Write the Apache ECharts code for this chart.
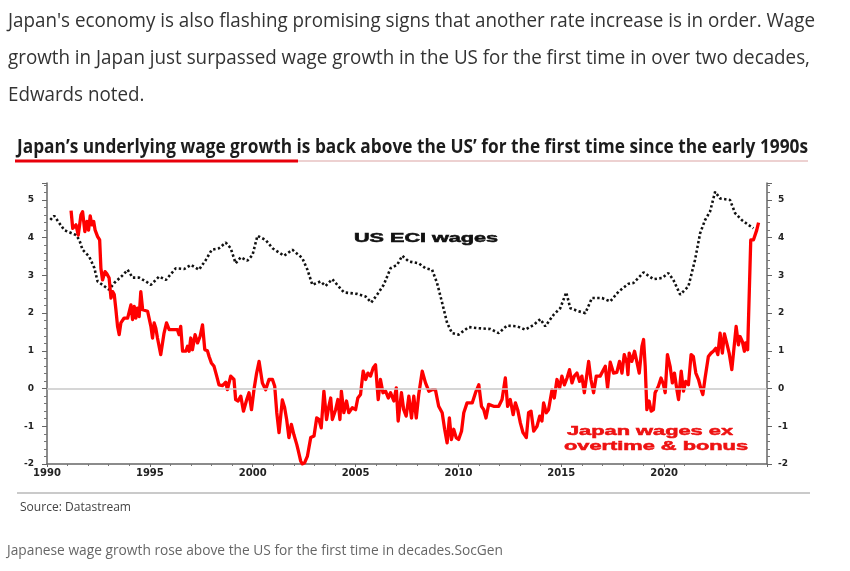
<!DOCTYPE html>
<html>
<head>
<meta charset="utf-8">
<script src="https://cdn.jsdelivr.net/npm/echarts@6/dist/echarts.min.js"></script>
<style>
html,body{margin:0;padding:0;background:#fff;}
#chart{width:850px;height:571px;}
</style>
</head>
<body>
<div id="chart"></div>
<script>
// ---------- DATA ----------
const articleLines = [
  "Japan's economy is also flashing promising signs that another rate increase is in order. Wage",
  "growth in Japan just surpassed wage growth in the US for the first time in over two decades,",
  "Edwards noted."
];
const chartTitle = "Japan\u2019s underlying wage growth is back above the US\u2019 for the first time since the early 1990s";
const sourceText = "Source: Datastream";
const captionText = "Japanese wage growth rose above the US for the first time in decades.SocGen";
const usLabel = "US ECI wages";
const japanLabel = ["Japan wages ex", "overtime & bonus"];

const yTicks = [-2, -1, 0, 1, 2, 3, 4, 5];
const xTicks = [1990, 1995, 2000, 2005, 2010, 2015, 2020];

// US ECI wages (% y/y), decimal year
const usX = [1990.16,1990.35,1990.84,1991.41,1991.57,1991.73,1992.05,1992.30,1992.46,1992.70,1993.02,1993.27,1993.67,1993.92,1994.16,1994.48,1994.81,1995.05,1995.45,1995.78,1996.26,1996.67,1996.99,1997.39,1997.72,1998.01,1998.36,1998.69,1998.93,1999.17,1999.42,1999.74,1999.99,2000.23,2000.63,2000.96,2001.52,2001.93,2002.41,2002.66,2002.90,2003.30,2003.54,2003.87,2004.43,2005.08,2005.49,2005.76,2006.05,2006.37,2006.70,2007.02,2007.27,2007.59,2008.07,2008.40,2008.72,2008.96,2009.21,2009.45,2009.69,2010.01,2010.50,2010.99,2011.55,2011.96,2012.36,2012.85,2013.25,2013.66,2013.98,2014.22,2014.63,2014.95,2015.24,2015.44,2015.84,2016.17,2016.49,2016.98,2017.38,2017.78,2018.27,2018.51,2019.00,2019.48,2019.89,2020.21,2020.45,2020.78,2021.18,2021.50,2021.75,2021.99,2022.23,2022.48,2022.72,2023.20,2023.45,2023.77,2024.09,2024.34];
const usY = [4.47,4.58,4.2,4.07,3.94,3.68,3.5,3.2,2.84,2.75,2.62,2.8,3.0,3.15,2.94,2.94,2.84,2.75,2.97,2.88,3.19,3.17,3.28,3.15,3.41,3.68,3.72,3.87,3.72,3.32,3.48,3.39,3.54,4.05,3.94,3.72,3.52,3.68,3.46,3.15,2.75,2.84,2.72,2.9,2.55,2.51,2.44,2.28,2.49,2.75,3.19,3.28,3.52,3.37,3.32,3.19,3.15,2.8,2.27,1.74,1.47,1.43,1.63,1.6,1.58,1.47,1.67,1.65,1.56,1.69,1.84,1.65,1.96,2.13,2.55,2.13,2.05,2.0,2.4,2.4,2.31,2.57,2.78,2.8,3.08,2.9,2.93,3.06,2.88,2.49,2.71,3.41,4.12,4.47,4.69,5.22,5.04,5.0,4.65,4.47,4.34,4.25];

// Japan wages ex overtime & bonus (% y/y), decimal year
const japanX = [1991.17,1991.25,1991.41,1991.52,1991.65,1991.73,1991.84,1991.94,1992.02,1992.10,1992.18,1992.27,1992.34,1992.46,1992.56,1992.62,1992.70,1992.82,1992.91,1993.02,1993.11,1993.19,1993.27,1993.35,1993.43,1993.51,1993.59,1993.75,1993.92,1994.08,1994.16,1994.24,1994.32,1994.40,1994.48,1994.56,1994.65,1994.72,1994.89,1995.05,1995.13,1995.21,1995.29,1995.37,1995.53,1995.69,1995.81,1995.94,1996.34,1996.42,1996.50,1996.59,1996.75,1996.83,1996.91,1996.99,1997.07,1997.20,1997.32,1997.44,1997.56,1997.67,1997.80,1997.88,1997.99,1998.12,1998.25,1998.36,1998.53,1998.69,1998.77,1998.93,1999.09,1999.17,1999.29,1999.42,1999.55,1999.71,1999.82,1999.94,2000.06,2000.19,2000.31,2000.47,2000.63,2000.79,2000.96,2001.07,2001.17,2001.28,2001.44,2001.55,2001.65,2001.76,2001.88,2002.00,2002.14,2002.20,2002.33,2002.41,2002.52,2002.66,2002.82,2002.98,2003.11,2003.22,2003.33,2003.46,2003.59,2003.70,2003.79,2003.87,2004.03,2004.14,2004.24,2004.31,2004.43,2004.56,2004.67,2004.84,2005.00,2005.11,2005.24,2005.37,2005.49,2005.60,2005.73,2005.86,2005.97,2006.10,2006.21,2006.33,2006.46,2006.59,2006.70,2006.86,2006.98,2007.07,2007.23,2007.34,2007.46,2007.59,2007.72,2007.83,2007.95,2008.07,2008.24,2008.40,2008.56,2008.72,2008.88,2009.04,2009.21,2009.33,2009.45,2009.56,2009.66,2009.77,2009.89,2010.01,2010.15,2010.26,2010.42,2010.67,2010.83,2010.99,2011.12,2011.23,2011.34,2011.47,2011.71,2011.96,2012.12,2012.28,2012.39,2012.52,2012.66,2012.77,2012.88,2013.01,2013.14,2013.30,2013.41,2013.53,2013.66,2013.82,2013.95,2014.06,2014.14,2014.27,2014.38,2014.55,2014.66,2014.79,2014.92,2015.03,2015.15,2015.28,2015.40,2015.52,2015.63,2015.76,2015.89,2016.00,2016.12,2016.21,2016.33,2016.44,2016.57,2016.70,2016.89,2017.14,2017.25,2017.38,2017.54,2017.70,2017.83,2017.95,2018.06,2018.19,2018.24,2018.30,2018.43,2018.56,2018.67,2018.79,2018.92,2019.00,2019.08,2019.16,2019.27,2019.37,2019.48,2019.56,2019.72,2019.85,2019.97,2020.05,2020.16,2020.29,2020.40,2020.50,2020.62,2020.70,2020.83,2020.94,2021.05,2021.18,2021.31,2021.42,2021.54,2021.67,2021.80,2021.88,2021.99,2022.07,2022.15,2022.28,2022.39,2022.51,2022.61,2022.72,2022.83,2022.93,2023.04,2023.16,2023.29,2023.42,2023.50,2023.61,2023.69,2023.80,2023.90,2023.96,2024.06,2024.14,2024.21,2024.34,2024.42,2024.50,2024.59];
const japanY = [4.72,4.25,4.34,4.07,4.6,4.69,4.16,4.43,4.2,4.58,4.34,4.43,4.2,4.03,3.94,3.19,2.88,3.1,3.04,2.93,2.4,2.57,2.49,2.09,1.65,1.43,1.74,1.87,1.87,2.22,1.83,2.18,1.87,2.13,1.91,2.57,2.09,2.05,2.05,1.65,1.34,1.74,1.6,1.34,0.9,1.47,1.74,1.56,1.56,1.43,1.65,0.99,0.99,1.12,0.99,1.34,1.03,1.43,1.21,1.38,1.69,1.03,1.0,0.85,0.68,0.59,0.33,0.1,0.08,0.17,-0.03,0.33,0.24,-0.29,-0.33,-0.2,-0.6,-0.29,-0.11,-0.56,-0.03,0.41,0.72,0.15,-0.03,0.24,0.24,0.06,-0.64,-1.17,-0.3,-0.5,-0.82,-1.3,-0.95,-1.22,-1.48,-1.61,-1.92,-2.0,-1.97,-1.79,-1.3,-1.26,-0.78,-0.82,-1.04,-0.07,-0.82,-0.47,-0.25,-0.82,-0.56,-0.29,-0.82,-0.07,-0.64,-0.33,-0.64,-0.51,-0.56,-0.25,-0.16,0.46,0.24,0.41,0.33,0.55,0.63,-0.29,0.24,-0.11,-0.07,-0.25,-0.11,-0.33,0.02,-0.86,-0.11,-0.56,-0.73,-0.2,-0.78,-0.2,-0.78,-0.16,0.46,0.15,-0.07,-0.03,-0.03,-0.47,-0.64,-1.08,-1.44,-0.78,-1.35,-1.08,-1.3,-1.35,-1.13,-0.64,-0.38,-0.38,-0.11,0.1,-0.47,-0.56,-0.78,-0.42,-0.47,-0.47,-0.29,0.28,-0.47,-0.29,-0.69,-0.38,-0.56,-0.91,-1.17,-1.3,-0.64,-0.6,-1.13,-1.0,-0.73,-0.86,-0.38,-0.64,-0.56,-0.03,-0.25,0.24,0.02,0.33,0.1,0.28,0.5,0.15,0.33,0.41,0.19,0.33,-0.11,0.24,0.72,0.24,-0.11,0.33,0.33,0.59,0.02,0.7,0.41,0.43,0.72,0.41,0.9,0.68,0.37,0.94,0.72,0.99,0.72,0.41,1.12,1.3,0.59,-0.56,-0.33,-0.6,-0.56,-0.11,0.06,0.28,0.1,-0.11,0.9,0.59,0.15,0.41,-0.03,-0.29,0.46,-0.07,0.19,0.1,0.9,0.85,0.41,0.24,-0.03,-0.16,0.28,0.24,0.85,0.94,0.99,1.07,0.9,1.47,0.94,1.45,1.21,0.94,0.5,1.21,1.65,1.16,1.38,1.25,0.99,1.21,1.03,1.06,3.94,3.94,3.94,4.2,4.4];

// ---------- BUILD ----------
const usData = usX.map((x, i) => [x, usY[i]]);
const japanData = japanX.map((x, i) => [x, japanY[i]]);

const measureCtx = document.createElement('canvas').getContext('2d');
function fitScale(text, font, width) {
  measureCtx.font = font;
  return width / measureCtx.measureText(text).width;
}

const articleFont = "19.5px 'Open Sans'";
const articleScale = fitScale(articleLines[0], articleFont, 807);
const titleFont = "bold 19px 'Open Sans'";
const titleScale = fitScale(chartTitle, titleFont, 791);
const srcFont = "12.5px 'Open Sans'";
const srcScale = fitScale(sourceText, srcFont, 111);
const capFont = "14px 'Open Sans'";
const capScale = fitScale(captionText, capFont, 496);
const annFont = "bold 12px 'Liberation Sans'";
const usScale = fitScale(usLabel, annFont, 144);
const jpScale = fitScale(japanLabel[0], annFont, 166);

function txt(text, x, y, font, fill, scaleX, align, strokeW) {
  const style = { text: text, font: font, fill: fill, align: align || 'left', verticalAlign: 'middle' };
  if (strokeW) { style.stroke = fill; style.lineWidth = strokeW; }
  return { type: 'text', x: x, y: y, scaleX: scaleX, silent: true, z: 100, style: style };
}

const graphics = [
  txt(articleLines[0], 8, 21, articleFont, '#333', articleScale),
  txt(articleLines[1], 8, 58, articleFont, '#333', articleScale),
  txt(articleLines[2], 8, 95, articleFont, '#333', articleScale),
  txt(chartTitle, 17, 148, titleFont, '#1c1c1c', titleScale),
  { type: 'line', silent: true, shape: { x1: 298, y1: 161, x2: 808, y2: 161 }, style: { stroke: '#dba3a3', lineWidth: 1 } },
  { type: 'line', silent: true, shape: { x1: 15, y1: 161, x2: 298, y2: 161 }, style: { stroke: '#e8000b', lineWidth: 3 } },
  txt(usLabel, 426, 239, annFont, '#111', usScale, 'center', 0.5),
  txt(japanLabel[0], 650, 432, annFont, '#ee1111', jpScale, 'center', 0.5),
  txt(japanLabel[1], 656, 447, annFont, '#ee1111', jpScale, 'center', 0.5),
  { type: 'line', silent: true, shape: { x1: 17, y1: 493, x2: 810, y2: 493 }, style: { stroke: '#b8b8b8', lineWidth: 1.5 } },
  txt(sourceText, 20, 507, srcFont, '#444', srcScale),
  txt(captionText, 7, 551, capFont, '#666', capScale)
];

const axisLineStyle = { color: '#666', width: 1.5 };
const yAxisCommon = {
  type: 'value', min: -2, max: 5.45, interval: 1,
  axisLine: { show: true, lineStyle: axisLineStyle },
  axisTick: { show: true, length: 5, lineStyle: { color: '#666', width: 1 } },
  minorTick: { show: true, splitNumber: 5, length: 3, lineStyle: { color: '#777', width: 1 } },
  splitLine: { show: false },
  axisLabel: {
    fontFamily: 'DejaVu Sans', fontWeight: 'bold', fontSize: 9, color: '#222',
    formatter: v => (yTicks.indexOf(v) >= 0 ? String(v) : '')
  }
};

const chart = echarts.init(document.getElementById('chart'), null, { renderer: 'canvas' });
chart.setOption({
  animation: false,
  backgroundColor: '#fff',
  grid: { left: 47, right: 83, top: 183, bottom: 107, containLabel: false },
  xAxis: {
    type: 'value', min: 1990, max: 2025, interval: 5,
    axisLine: { show: true, onZero: false, lineStyle: axisLineStyle },
    axisTick: { show: true, length: 3, lineStyle: { color: '#666' } },
    minorTick: { show: true, splitNumber: 5, length: 2, lineStyle: { color: '#777' } },
    splitLine: { show: false },
    axisLabel: {
      margin: 4, fontFamily: 'DejaVu Sans', fontWeight: 'bold', fontSize: 10, color: '#222',
      formatter: v => (xTicks.indexOf(v) >= 0 ? String(v) : '')
    }
  },
  yAxis: [
    Object.assign({}, yAxisCommon, { position: 'left', axisLabel: Object.assign({}, yAxisCommon.axisLabel, { margin: 13 }) }),
    Object.assign({}, yAxisCommon, { position: 'right', axisLabel: Object.assign({}, yAxisCommon.axisLabel, { margin: 11 }) })
  ],
  graphic: graphics,
  series: [
    {
      name: 'zero', type: 'line', data: [], z: 1, silent: true,
      markLine: {
        silent: true, symbol: 'none', animation: false,
        label: { show: false },
        lineStyle: { color: '#c9c9c9', width: 1.5, type: 'solid' },
        data: [{ yAxis: 0 }]
      }
    },
    {
      name: usLabel, type: 'line', data: usData, z: 2,
      showSymbol: false, symbol: 'none',
      lineStyle: { color: '#111', width: 2.6, type: [2.4, 2.4] }
    },
    {
      name: japanLabel.join(' '), type: 'line', data: japanData, z: 3,
      showSymbol: false, symbol: 'none',
      lineStyle: { color: '#ff0000', width: 3.3, join: 'round' }
    }
  ]
});
</script>
</body>
</html>
